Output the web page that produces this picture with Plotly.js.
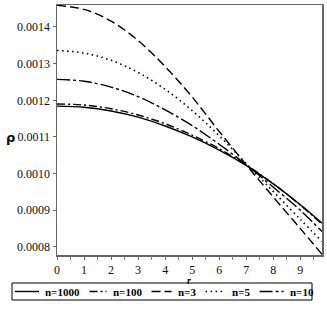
<!DOCTYPE html>
<html>
<head>
<meta charset="utf-8">
<script src="https://cdn.plot.ly/plotly-3.0.1.min.js"></script>
<style>html,body{margin:0;padding:0;background:#fff;}#chart{width:327px;height:312px;}</style>
</head>
<body>
<div id="chart"></div>
<script>
// radius values
const r = [0, 1, 2, 3, 4, 5, 6, 7, 8, 9, 9.8];
// density series
const rho_n1000 = [0.001184, 0.001181, 0.001171, 0.001154, 0.001130, 0.001100, 0.001064, 0.001022, 0.000972, 0.000915, 0.000865];
const rho_n100  = [0.001190, 0.001187, 0.001177, 0.001160, 0.001136, 0.001105, 0.001068, 0.001024, 0.000972, 0.000914, 0.000862];
const rho_n3    = [0.001459, 0.001448, 0.001416, 0.001363, 0.001292, 0.001209, 0.001115, 0.001024, 0.000936, 0.000850, 0.000780];
const rho_n5    = [0.001336, 0.001329, 0.001309, 0.001276, 0.001230, 0.001172, 0.001103, 0.001027, 0.000951, 0.000875, 0.000815];
const rho_n10   = [0.001257, 0.001252, 0.001236, 0.001210, 0.001174, 0.001131, 0.001080, 0.001024, 0.000963, 0.000900, 0.000842];
const seriesNames = ["n=1000", "n=100", "n=3", "n=5", "n=10"];
const yTickVals = [0.0008, 0.0009, 0.0010, 0.0011, 0.0012, 0.0013, 0.0014];
const yTickText = ["0.0008", "0.0009", "0.0010", "0.0011", "0.0012", "0.0013", "0.0014"];
const xTickVals = [0, 1, 2, 3, 4, 5, 6, 7, 8, 9];

const seriesData = [rho_n1000, rho_n100, rho_n3, rho_n5, rho_n10];
const dashes = ["solid", "8px,3px,2px,3px", "9px,4px", "1.5px,3.5px", "13px,3px,3px,3px"];
const widths = [1.4, 1.4, 1.4, 1.6, 1.4];

const traces = seriesData.map((ys, i) => ({
  x: r, y: ys, type: "scatter", mode: "lines", name: seriesNames[i],
  line: {color: "#000", width: widths[i], dash: dashes[i], shape: "spline", smoothing: 1},
  showlegend: false, hoverinfo: "skip"
}));

const W = 327, H = 312;
const M = {l: 57, r: 5, t: 5, b: 57};
const pw = W - M.l - M.r, ph = H - M.t - M.b;
const px = v => (v - M.l) / pw;
const py = v => (H - M.b - v) / ph;

const serif = "Liberation Serif";

// custom legend layout
const cv = document.createElement("canvas").getContext("2d");
cv.font = "bold 11px 'Liberation Serif'";
const symLen = [24, 17, 20, 20, 24];
const textW = seriesNames.map(s => cv.measureText(s).width);
const boxL = 12, boxR = 312, boxT = 283, boxB = 300;
const inner = symLen.reduce((a, b) => a + b, 0) + textW.reduce((a, b) => a + b, 0) + 5 * 4;
const gap = (boxR - boxL - 4 - inner) / 4;
const shapes = [{type: "rect", xref: "paper", yref: "paper", x0: px(boxL), x1: px(boxR), y0: py(boxB), y1: py(boxT), line: {color: "#000", width: 1}}];
const annotations = [];
let cx = boxL + 3;
const cy = (boxT + boxB) / 2;
seriesNames.forEach((name, i) => {
  shapes.push({type: "line", xref: "paper", yref: "paper", x0: px(cx), x1: px(cx + symLen[i]), y0: py(cy), y1: py(cy), line: {color: "#000", width: widths[i], dash: dashes[i]}});
  cx += symLen[i] + 4;
  annotations.push({xref: "paper", yref: "paper", x: px(cx), y: py(cy + 0.5), xanchor: "left", yanchor: "middle", text: "<b>" + name + "</b>", showarrow: false, font: {family: serif, size: 11, color: "#000"}});
  cx += textW[i] + gap;
});

annotations.push({xref: "paper", yref: "paper", x: px(10), y: py(137), xanchor: "center", yanchor: "middle", text: "<b>ρ</b>", showarrow: false, font: {family: "DejaVu Sans", size: 13, color: "#000"}});
annotations.push({xref: "paper", yref: "paper", x: px(189), y: py(280), xanchor: "center", yanchor: "middle", text: "<b><i>r</i></b>", showarrow: false, font: {family: serif, size: 10, color: "#000"}});

const layout = {
  width: W, height: H,
  margin: M,
  paper_bgcolor: "#fff", plot_bgcolor: "#fff",
  showlegend: false,
  font: {family: serif, size: 12, color: "#111"},
  xaxis: {
    range: [0, 9.8], tickvals: xTickVals, ticks: "outside", ticklen: 3, tickcolor: "#666",
    showline: true, linecolor: "#666", linewidth: 1.5, mirror: true, showgrid: false, zeroline: false,
    minor: {dtick: 0.5, ticks: "outside", ticklen: 3, tickcolor: "#888", showgrid: false},
    tickfont: {family: serif, size: 12, color: "#111"}
  },
  yaxis: {
    range: [0.000778, 0.00146], tickvals: yTickVals, ticktext: yTickText, ticks: "outside", ticklen: 3, tickcolor: "#666",
    showline: true, linecolor: "#666", linewidth: 1.5, mirror: true, showgrid: false, zeroline: false,
    tickfont: {family: serif, size: 12, color: "#111"}
  },
  shapes: shapes,
  annotations: annotations
};

Plotly.newPlot("chart", traces, layout, {displayModeBar: false, staticPlot: true});
</script>
</body>
</html>
